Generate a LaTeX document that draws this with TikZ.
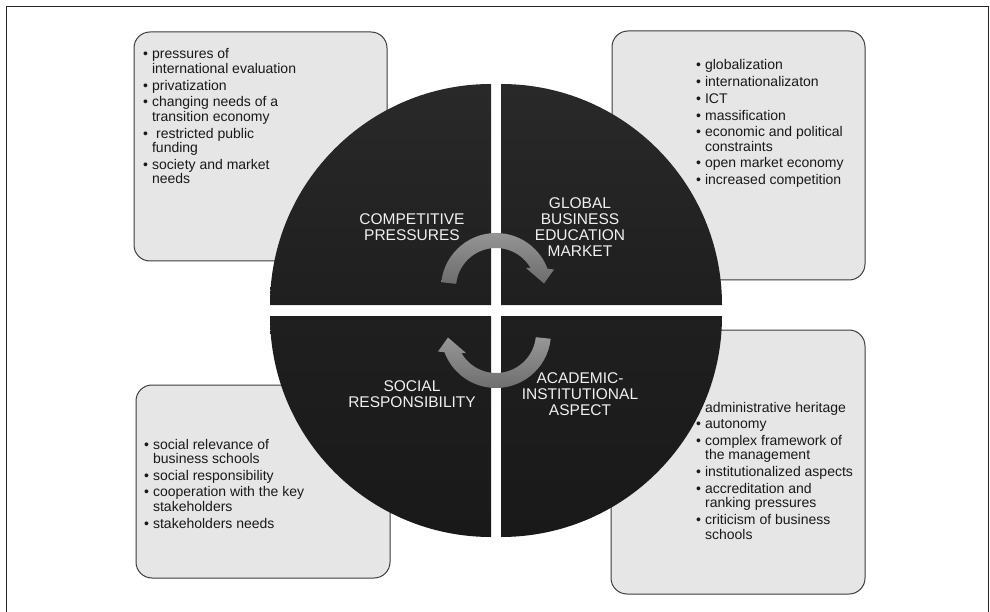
\documentclass[tikz,border=0pt]{standalone}
\usepackage{fontspec}
\setmainfont{Liberation Sans}

\definecolor{boxfill}{HTML}{E6E6E6}
\definecolor{boxline}{HTML}{3C3C3C}
\definecolor{quadtop}{HTML}{292929}
\definecolor{quadmid}{HTML}{1F1F1F}
\definecolor{quadlow}{HTML}{191919}
\definecolor{arrowlight}{HTML}{979797}
\definecolor{arrowdark}{HTML}{6C6C6C}

\tikzset{
  infobox/.style={draw=boxline, line width=1pt, fill=boxfill, rounded corners=16pt},
  bullets/.style={anchor=base west, inner sep=0pt, text=black!90, font=\fontsize{14}{14.5}\selectfont},
  quadlabel/.style={align=center, inner sep=0pt, text=white!94!black, font=\fontsize{15.5}{16}\selectfont},
  turnarrow/.style={top color=arrowlight, bottom color=arrowdark, draw=none}
}

\begin{document}
\begin{tikzpicture}[x=1pt, y=-1pt]
    \useasboundingbox (0,0) rectangle (990,612);
    % This draws the outer frame.
        \draw[black!85, line width=1.6pt] (6.5,612) -- (6.5,6.5) -- (988.5,6.5) -- (988.5,612);
    % The four grey boxes.
        \draw[infobox] (134,32) rectangle (387,261);
        \draw[infobox] (612,31) rectangle (865,280);
        \draw[infobox] (136,385) rectangle (390,578);
        \draw[infobox] (611,330) rectangle (865,594);
    % Below nodes are the lists in the boxes.
        \node[bullets] (tlList) at (143,59) {\begin{tabular}[t]{@{}l@{\hspace{4pt}}l@{}}
            • & pressures of\\ & international evaluation\\[2.2pt]
            • & privatization\\[2.2pt]
            • & changing needs of a\\ & transition economy\\[2.2pt]
            • & \hspace{4pt}restricted public\\ & funding\\[2.2pt]
            • & society and market\\ & needs
        \end{tabular}};
        \node[bullets] (trList) at (696,70) {\begin{tabular}[t]{@{}l@{\hspace{4pt}}l@{}}
            • & globalization\\[2.2pt]
            • & internationalizaton\\[2.2pt]
            • & ICT\\[2.2pt]
            • & massification\\[2.2pt]
            • & economic and political\\ & constraints\\[2.2pt]
            • & open market economy\\[2.2pt]
            • & increased competition
        \end{tabular}};
        \node[bullets] (blList) at (144,449) {\begin{tabular}[t]{@{}l@{\hspace{4pt}}l@{}}
            • & social relevance of\\ & business schools\\[2.2pt]
            • & social responsibility\\[2.2pt]
            • & cooperation with the key\\ & stakeholders\\[2.2pt]
            • & stakeholders needs
        \end{tabular}};
        \node[bullets] (brList) at (696,412) {\begin{tabular}[t]{@{}l@{\hspace{4pt}}l@{}}
            • & administrative heritage\\[2.2pt]
            • & autonomy\\[2.2pt]
            • & complex framework of\\ & the management\\[2.2pt]
            • & institutionalized aspects\\[2.2pt]
            • & accreditation and\\ & ranking pressures\\[2.2pt]
            • & criticism of business\\ & schools
        \end{tabular}};
    % This draws the four quarters of the circle.
        \shade[top color=quadtop, bottom color=quadmid] (491,305) -- (270,305) arc[start angle=180, end angle=270, radius=221] -- cycle;
        \shade[top color=quadtop, bottom color=quadmid] (501,305) -- (501,84) arc[start angle=270, end angle=360, radius=221] -- cycle;
        \shade[top color=quadmid, bottom color=quadlow] (501,316) -- (722,316) arc[start angle=0, end angle=90, radius=221] -- cycle;
        \shade[top color=quadmid, bottom color=quadlow] (491,316) -- (491,537) arc[start angle=90, end angle=180, radius=221] -- cycle;
    % This draws the top arrow, the bottom one is the same turned round.
        \shade[turnarrow] (441.3,282.25) arc[start angle=186, end angle=339.5, radius=55]
            -- (554,269.5) -- (544,283.5) -- (526,268) -- (530.6,268)
            arc[start angle=330, end angle=186, radius=40] -- cycle;
        \begin{scope}[rotate around={180:(496,310.5)}]
        \shade[turnarrow] (441.3,282.25) arc[start angle=186, end angle=339.5, radius=55]
            -- (554,269.5) -- (544,283.5) -- (526,268) -- (530.6,268)
            arc[start angle=330, end angle=186, radius=40] -- cycle;
        \end{scope}
    % Below nodes are the labels.
        \node[quadlabel] (compLabel) at (412,227) {COMPETITIVE\\PRESSURES};
        \node[quadlabel] (globLabel) at (580,227) {GLOBAL\\BUSINESS\\EDUCATION\\MARKET};
        \node[quadlabel] (socLabel) at (412,394) {SOCIAL\\RESPONSIBILITY};
        \node[quadlabel] (acadLabel) at (580,394) {ACADEMIC-\\INSTITUTIONAL\\ASPECT};
\end{tikzpicture}
\end{document}
